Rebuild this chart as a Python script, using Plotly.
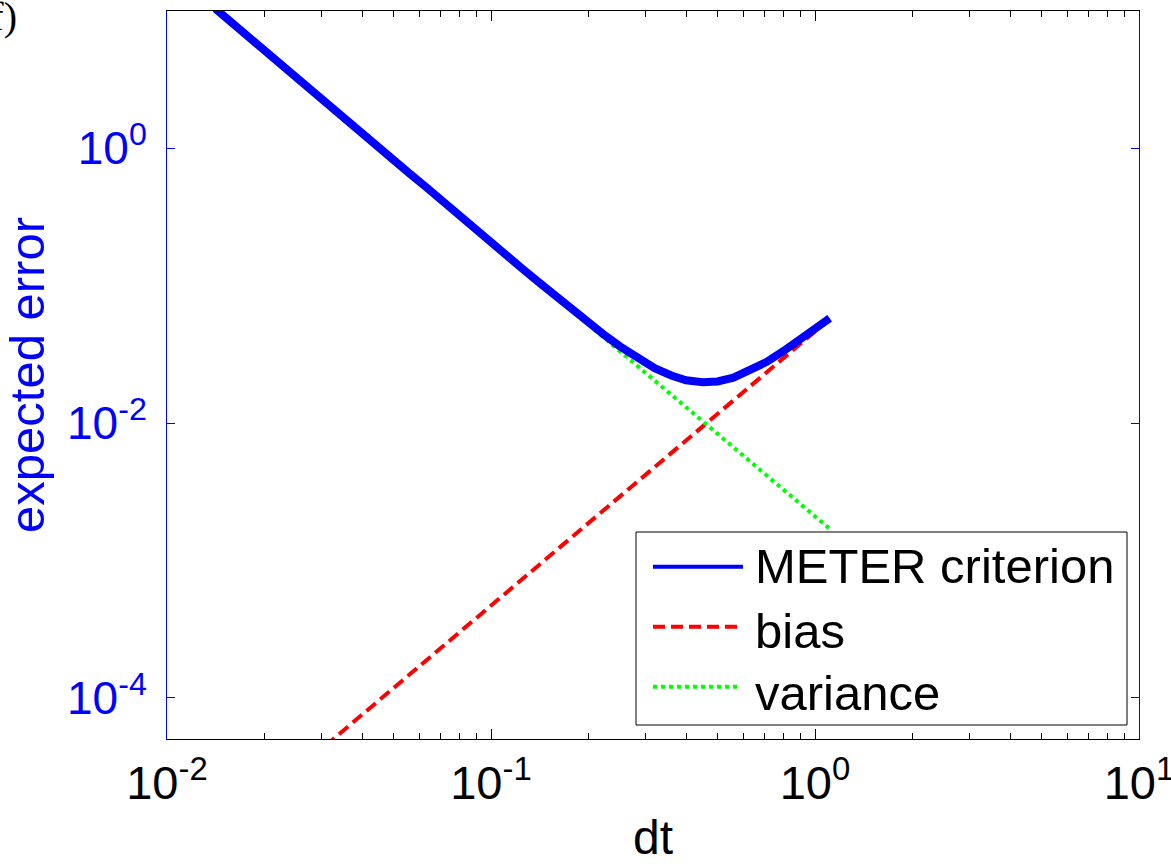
import plotly.graph_objects as go

# ---- data ----
dt = [0.0141, 0.016, 0.018, 0.02, 0.0225, 0.025, 0.028, 0.032, 0.036, 0.04,
      0.045, 0.05, 0.056, 0.063, 0.071, 0.08, 0.09, 0.1, 0.112, 0.125,
      0.14, 0.16, 0.18, 0.2, 0.225, 0.25, 0.28, 0.32, 0.36, 0.4,
      0.45, 0.5, 0.56, 0.63, 0.71, 0.8, 0.9, 1.0, 1.11]

meter = [10.4, 8.05, 6.35, 5.15, 4.10, 3.29, 2.65, 2.01, 1.60, 1.29,
         1.02, 0.83, 0.658, 0.523, 0.409, 0.325, 0.255, 0.208, 0.1655, 0.133,
         0.1068, 0.0821, 0.0655, 0.0538, 0.0434, 0.0362, 0.0302, 0.0251, 0.0222, 0.0205,
         0.0198, 0.0201, 0.0214, 0.0240, 0.0279, 0.0335, 0.0405, 0.0485, 0.0580]

variance = [10.41, 8.09, 6.39, 5.18, 4.09, 3.31, 2.64, 2.02, 1.597, 1.294,
            1.022, 0.828, 0.660, 0.5215, 0.4106, 0.3234, 0.2556, 0.207, 0.1650, 0.1325,
            0.1056, 0.0809, 0.0639, 0.0518, 0.0409, 0.0331, 0.0264, 0.0202, 0.0160, 0.01294,
            0.01022, 0.00828, 0.00660, 0.00522, 0.00411, 0.00323, 0.00256, 0.00207, 0.00170]

bias = [9.4e-6, 1.21e-5, 1.53e-5, 1.89e-5, 2.39e-5, 2.96e-5, 3.71e-5, 4.84e-5, 6.13e-5, 7.57e-5,
        9.58e-5, 1.18e-4, 1.48e-4, 1.88e-4, 2.38e-4, 3.03e-4, 3.83e-4, 4.73e-4, 5.93e-4, 7.39e-4,
        9.27e-4, 1.21e-3, 1.53e-3, 1.89e-3, 2.39e-3, 2.96e-3, 3.71e-3, 4.84e-3, 6.13e-3, 7.57e-3,
        9.58e-3, 1.18e-2, 1.48e-2, 1.88e-2, 2.38e-2, 3.03e-2, 3.80e-2, 4.65e-2, 5.70e-2]

series_names = ["METER criterion", "bias", "variance"]

x_tickvals = [0.01, 0.1, 1, 10]
x_ticktext = ["10<sup>-2</sup>", "10<sup>-1</sup>", "10<sup>0</sup>", "10<sup>1</sup>"]
x_minorvals = [m * d for d in (0.01, 0.1, 1) for m in range(2, 10)]
y_tickvals = [1e-4, 1e-2, 1]
y_ticktext = ["10<sup>-4</sup>", "10<sup>-2</sup>", "10<sup>0</sup>"]

BLUE = "rgb(0,0,255)"
RED = "rgb(255,0,0)"
GREEN = "rgb(0,255,0)"
FONT = "Liberation Sans, Arial, sans-serif"
W, H = 1171, 864
ML, MR, MT, MB = 167, 32, 11, 125
PW, PH = W - ML - MR, H - MT - MB

def px(xpix):
    return (xpix - ML) / PW

def py(ypix):
    return (H - MB - ypix) / PH

styles = [dict(color=BLUE, width=4),
          dict(color=RED, width=4, dash="12px,6px"),
          dict(color=GREEN, width=4, dash="4px,4px")]

fig = go.Figure()
fig.add_trace(go.Scatter(x=dt, y=bias, mode="lines", name=series_names[1], showlegend=False,
                         line=dict(color=RED, width=4, dash="12px,6px")))
fig.add_trace(go.Scatter(x=dt, y=variance, mode="lines", name=series_names[2], showlegend=False,
                         line=dict(color=GREEN, width=4, dash="4px,4px")))
fig.add_trace(go.Scatter(x=dt, y=meter, mode="lines", name=series_names[0], showlegend=False,
                         line=dict(color=BLUE, width=8)))

# legend box (drawn as shapes + annotations to match the MATLAB layout)
shapes = [dict(type="rect", xref="paper", yref="paper",
               x0=px(636), x1=px(1127), y0=py(725), y1=py(532),
               line=dict(color="black", width=1), fillcolor="white", layer="above")]
row_line_y = [566.7, 626.7, 686.7]
row_text_y = [566, 631, 693]
line_x1 = [743, 739, 739]
annotations = []
for i, name in enumerate(series_names):
    shapes.append(dict(type="line", xref="paper", yref="paper",
                       x0=px(653), x1=px(line_x1[i]), y0=py(row_line_y[i]), y1=py(row_line_y[i]),
                       line=styles[i], layer="above"))
    annotations.append(dict(text=name, xref="paper", yref="paper",
                            x=px(753), y=py(row_text_y[i]), xanchor="left", yanchor="middle",
                            showarrow=False, font=dict(size=49, color="black", family=FONT)))

annotations.append(dict(text="(f)", xref="paper", yref="paper",
                        x=px(19), y=py(17), xanchor="right", yanchor="middle", showarrow=False,
                        font=dict(family="Liberation Serif, Times New Roman, serif",
                                  size=40, color="black")))

fig.update_layout(
    width=W, height=H,
    margin=dict(l=ML, r=MR, t=MT, b=MB),
    paper_bgcolor="white", plot_bgcolor="white",
    font=dict(family=FONT, color="black"),
    showlegend=False,
    shapes=shapes, annotations=annotations,
)

fig.update_xaxes(
    type="log", range=[-2, 1], automargin=False,
    tickmode="array", tickvals=x_tickvals, ticktext=x_ticktext,
    ticks="inside", ticklen=10, tickwidth=1, tickcolor="black",
    showline=True, linecolor="black", linewidth=1, mirror="ticks",
    showgrid=False, zeroline=False,
    tickfont=dict(size=47, color="black"),
    ticklabelstandoff=3, ticklabeloverflow="allow",
    minor=dict(ticks="inside", ticklen=6, tickwidth=1, tickcolor="black",
               tickmode="array", tickvals=x_minorvals, showgrid=False),
    title=dict(text="dt", font=dict(size=48, color="black"), standoff=22),
)

fig.update_yaxes(
    type="log", range=[-4.30, 1.0], automargin=False,
    tickmode="array", tickvals=y_tickvals, ticktext=y_ticktext,
    ticks="inside", ticklen=8, tickwidth=1, tickcolor=BLUE,
    showline=True, linecolor=BLUE, linewidth=1, mirror="ticks",
    showgrid=False, zeroline=False,
    tickfont=dict(size=46, color=BLUE),
    ticklabelstandoff=10, ticklabeloverflow="allow",
    title=dict(text="expected error", font=dict(size=49, color=BLUE), standoff=14),
)

fig.write_html("out.html", config={"displayModeBar": False},
               post_script="document.body.style.margin='0';")
